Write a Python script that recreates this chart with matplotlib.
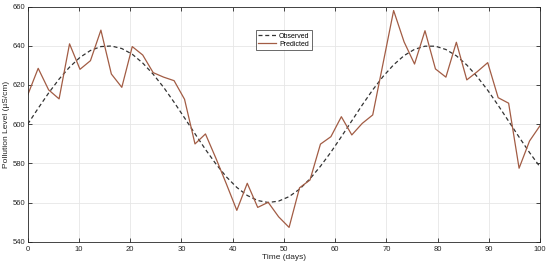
import numpy as np
import matplotlib
matplotlib.use("Agg")
import matplotlib.pyplot as plt

plt.rcParams["font.family"] = ["Liberation Sans", "DejaVu Sans"]

# ── Data ───────────────────────────────────────────────────────────────────
time_days = np.linspace(0, 100, 50)

observed = [
    600.0, 608.1, 615.9, 623.0, 629.1, 634.1, 637.6, 639.6, 639.9, 638.6,
    635.7, 631.2, 625.5, 618.8, 611.2, 603.2, 595.1, 587.1, 579.7, 573.1,
    567.7, 563.6, 561.0, 560.0, 560.7, 563.0, 566.8, 572.1, 578.5, 585.7,
    593.6, 601.7, 609.8, 617.5, 624.4, 630.3, 635.0, 638.2, 639.8, 639.8,
    638.1, 634.9, 630.2, 624.2, 617.3, 609.6, 601.5, 593.4, 585.5, 578.2,
]

predicted = [
    614.9, 628.5, 617.5, 612.9, 641.0, 628.0, 632.4, 648.0, 625.6, 618.8,
    639.6, 635.3, 626.3, 624.0, 622.2, 612.7, 589.9, 595.0, 582.6, 569.5,
    556.0, 569.8, 557.5, 560.1, 552.7, 547.3, 567.5, 571.5, 589.8, 593.6,
    603.8, 594.5, 600.4, 604.7, 631.3, 658.0, 642.0, 630.7, 647.7, 628.2,
    624.0, 641.8, 622.6, 626.8, 631.4, 613.5, 610.7, 577.5, 591.4, 599.2,
]

x_ticks = [0, 10, 20, 30, 40, 50, 60, 70, 80, 90, 100]
y_ticks = [540, 560, 580, 600, 620, 640, 660]

# ── Figure ─────────────────────────────────────────────────────────────────
fig = plt.figure(figsize=(5.5, 2.65), dpi=100)
ax = fig.add_axes([0.0504, 0.088, 0.9314, 0.887])

ax.plot(time_days, observed, color="#333333", linestyle=(0, (3.2, 2.2)),
        linewidth=0.9, label="Observed")
ax.plot(time_days, predicted, color="#a25c44", linewidth=0.9,
        label="Predicted")

ax.set_xlim(0, 100)
ax.set_ylim(540, 660)
ax.set_xticks(x_ticks)
ax.set_yticks(y_ticks)

ax.grid(True, color="#e6e6e6", linewidth=0.6)
ax.set_axisbelow(True)
ax.tick_params(direction="in", length=3, width=0.6, labelsize=5.5,
               colors="#262626", top=True, right=True, pad=2)
ax.tick_params(axis="x", pad=3)
for s in ax.spines.values():
    s.set_color("#262626")
    s.set_linewidth(0.6)

ax.set_xlabel("Time (days)", fontsize=6, color="#262626", labelpad=1)
ax.set_ylabel("Pollution Level (µS/cm)", fontsize=6, color="#262626",
              labelpad=2)

leg = ax.legend(loc="upper center", bbox_to_anchor=(0.5, 0.915),
                fontsize=5, frameon=True, fancybox=False,
                handlelength=2.6, borderpad=0.35, labelspacing=0.2,
                handletextpad=0.4)
leg.get_frame().set_edgecolor("#262626")
leg.get_frame().set_linewidth(0.6)

fig.savefig("out.png", dpi=100)
